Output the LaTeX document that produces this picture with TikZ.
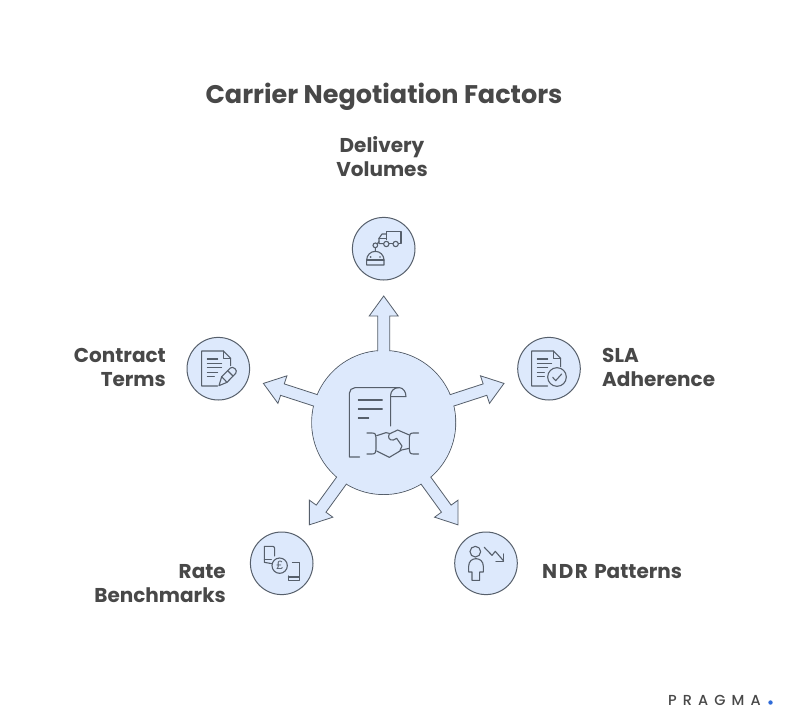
\documentclass[tikz,border=0pt]{standalone}
\usepackage{fontspec}
\setmainfont{Poppins}
\newfontfamily\logofont[LetterSpace=42,UprightFont=* Medium]{Poppins}
\newfontfamily\poundfont{Liberation Sans}
\definecolor{hubfill}{HTML}{DDE9FC}
\definecolor{edge}{HTML}{565F6B}
\definecolor{ink}{HTML}{484848}
\definecolor{dotblue}{HTML}{2F6BD8}
\tikzset{
  x=1pt,y=-1pt,
  hubnode/.style={circle,draw=edge,fill=hubfill,line width=0.9pt,minimum size=144pt,inner sep=0pt},
  leaf/.style={circle,draw=edge,fill=hubfill,line width=1pt,minimum size=62.6pt,inner sep=0pt},
  label/.style={font=\bfseries\fontsize{20}{24}\selectfont,text=ink,inner sep=0pt},
  blockarrow/.style={draw=edge,fill=hubfill,line width=0.8pt,line join=miter},
  icon/.style={draw=edge,line width=1.1pt,line cap=round,line join=round,fill=none},
  zoomed/.style={x=0.3333pt,y=-0.3333pt},
}
\begin{document}
\begin{tikzpicture}
\useasboundingbox (0,0) rectangle (792,726);
\fill[white] (0,0) rectangle (792,726);
\node[font=\bfseries\fontsize{25.5}{30}\selectfont,text=ink,inner sep=0pt] (title) at (384,97) {Carrier Negotiation Factors};
\node[hubnode] (hub) at (383.7,422.5) {};
\foreach \a in {90,18,162,234,306}{
  \begin{scope}[shift={(hub.center)},rotate=\a]
    \draw[blockarrow] (60,-6)--(106.5,-6)--(106.5,-14.5)--(126.5,0)--(106.5,14.5)--(106.5,6)--(60,6);
  \end{scope}
}
\fill[hubfill] (hub.center) circle (71.5);

\node[leaf] (delivery) at (383.7,248.7) {};
\node[leaf] (contract) at (218.3,368.7) {};
\node[leaf] (sla) at (549,368.7) {};
\node[leaf] (rate) at (281.7,563.3) {};
\node[leaf] (ndr) at (486,563.3) {};

\node[label,align=center] (tdelivery) at (382,157) {Delivery\\Volumes};
\node[label,align=right,anchor=east] (tcontract) at (166,367.5) {Contract\\Terms};
\node[label,align=left,anchor=west] (tsla) at (602,367.5) {SLA\\Adherence};
\node[label,align=right,anchor=east] (trate) at (226,583.5) {Rate\\Benchmarks};
\node[label,anchor=west] (tndr) at (542,571.5) {{\addfontfeature{LetterSpace=8}NDR}\hspace{2pt} Patterns};

\node[font=\fontsize{14.5}{16}\logofont,text=ink,anchor=west,inner sep=0pt] (logo) at (668,700) {PRAGMA};
\fill[dotblue] (770.5,702.5) circle (2.2);

% hub icon
\begin{scope}[shift={(300,340)},zoomed]
  \draw[icon] (179,351)--(148,351)--(148,160) arc[start angle=180,end angle=270,radius=17]--(298,143) arc[start angle=270,end angle=360,x radius=20,y radius=27]--(272,170);
  \draw[icon] (272,258)--(272,165) arc[start angle=180,end angle=270,x radius=24,y radius=22];
  \draw[icon] (175,180)--(247,180) (175,207)--(247,207) (175,234)--(206,234);
  \draw[icon] (201,279)--(216,279) .. controls (226,279) and (228,284) .. (228,292)--(228,328) .. controls (228,337) and (226,342) .. (216,342)--(201,342);
  \draw[icon] (356,279)--(340,279) .. controls (330,279) and (328,284) .. (328,292)--(328,328) .. controls (328,337) and (330,342) .. (340,342)--(356,342);
  \draw[icon] (230,287)--(258,278)--(268,280);
  \draw[icon] (230,333)--(268,352)--(305,330)--(328,325);
  \draw[icon] (328,285)--(293,270)--(268,282) .. controls (262,292) and (268,302) .. (280,300)--(290,295)--(306,318)--(300,331);
\end{scope}

% delivery icon
\begin{scope}[shift={(340,205)},zoomed]
  \draw[icon] (140,104)--(140,80)--(183,80)--(183,116)--(176,116) (158,116)--(148,116);
  \draw[icon] (140,87)--(126,87)--(117,100)--(117,116)--(130,116);
  \draw[icon] (117,101)--(140,101);
  \draw[icon] (139,117) circle (8) (167,117) circle (8);
  \draw[icon] (106,121) circle (7) (106,128)--(106,140) (112,116)--(117,110);
  \draw[icon] (80,165) arc[start angle=180,end angle=360,radius=26]--(132,180)--(80,180)--cycle;
  \draw[icon] (80,165)--(132,165);
  \fill[edge] (92,156) circle (2.8) (120,156) circle (2.8);
\end{scope}

% contract icon
\begin{scope}[shift={(175,325)},zoomed]
  \draw[icon] (128,183)--(80,183)--(80,78)--(145,78)--(167,100)--(167,122);
  \draw[icon] (145,78)--(145,100)--(167,100);
  \draw[icon] (97,102)--(128,102) (97,115)--(140,115) (97,128)--(140,128) (97,142)--(128,142) (97,155)--(118,155);
  \draw[icon] (132,182)--(140,155)--(166,129) .. controls (174,122) and (190,136) .. (182,145)--(156,172)--cycle;
  \draw[icon] (158,137)--(174,153) (140,155)--(156,172);
\end{scope}

% SLA icon
\begin{scope}[shift={(505,325)},zoomed]
  \draw[icon] (128,183)--(80,183)--(80,78)--(145,78)--(167,100)--(167,125);
  \draw[icon] (145,78)--(145,100)--(167,100);
  \draw[icon] (97,102)--(128,102) (97,115)--(140,115) (97,128)--(128,128) (97,142)--(118,142) (97,155)--(118,155);
  \draw[icon] (156,156) circle (28);
  \draw[icon] (143,157)--(152,167)--(170,147);
\end{scope}

% rate icon
\begin{scope}[shift={(237,518)},zoomed]
  \draw[icon] (113,114)--(113,91) arc[start angle=0,end angle=-90,radius=6]--(82,85)--(82,133)--(105,137);
  \draw[icon] (82,124)--(103,124);
  \draw[icon] (166,133)--(187,133)--(187,188)--(154,188)--(154,174);
  \draw[icon] (154,177)--(187,177);
  \draw[icon] (128,143) circle (23);
  \node[font=\fontsize{12}{12}\poundfont,text=edge,inner sep=0pt] (pound) at (128,143) {£};
\end{scope}

% NDR icon
\begin{scope}[shift={(442,518)},zoomed]
  \draw[icon] (100,101) circle (16);
  \draw[icon] (90,187)--(90,162)--(80,162)--(80,145) .. controls (80,130) and (90,122) .. (102,122) .. controls (114,122) and (124,130) .. (124,145)--(124,162)--(113,162)--(113,187)--cycle;
  \draw[icon] (127,88)--(150,112)--(160,100)--(185,129);
  \draw[icon] (185,108)--(185,130)--(162,130);
\end{scope}
\end{tikzpicture}
\end{document}
